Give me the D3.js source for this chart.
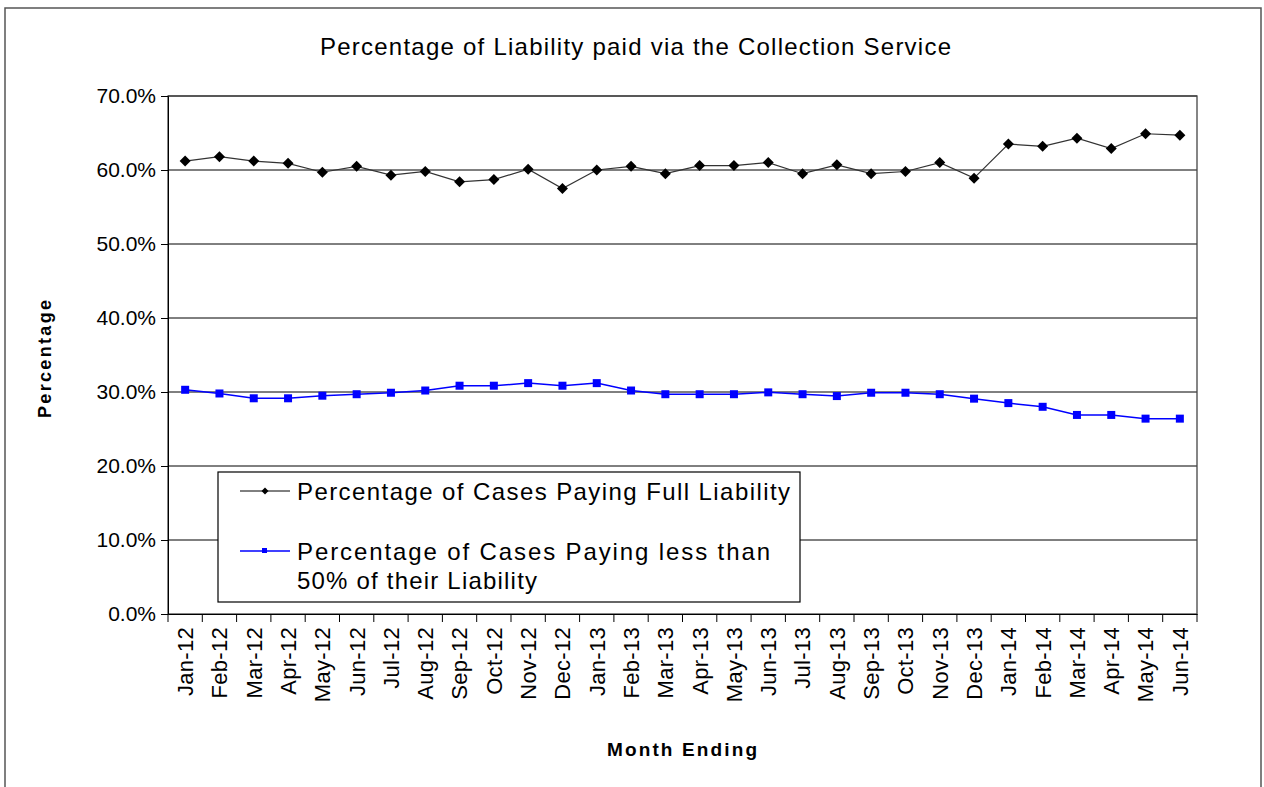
<!DOCTYPE html>
<html><head><meta charset="utf-8">
<script src="https://cdn.jsdelivr.net/npm/d3@7"></script>
<style>body{margin:0;background:#fff}svg{display:block}text{font-family:"Liberation Sans",Arial,sans-serif}</style>
</head><body><svg id="c" width="1264" height="787"></svg>
<script>
const months = ["Jan-12","Feb-12","Mar-12","Apr-12","May-12","Jun-12","Jul-12","Aug-12","Sep-12","Oct-12","Nov-12","Dec-12",
"Jan-13","Feb-13","Mar-13","Apr-13","May-13","Jun-13","Jul-13","Aug-13","Sep-13","Oct-13","Nov-13","Dec-13",
"Jan-14","Feb-14","Mar-14","Apr-14","May-14","Jun-14"];
const fullLiability = [61.2,61.8,61.2,60.9,59.7,60.5,59.3,59.8,58.4,58.7,60.1,57.5,60.0,60.5,59.5,60.6,60.6,61.0,59.5,60.7,59.5,59.8,61.0,58.9,63.5,63.2,64.3,62.9,64.9,64.7];
const lessThanHalf = [30.3,29.8,29.15,29.15,29.5,29.7,29.9,30.2,30.85,30.85,31.2,30.85,31.2,30.2,29.7,29.7,29.7,29.95,29.7,29.45,29.9,29.9,29.7,29.1,28.5,28.0,26.9,26.9,26.4,26.4];
const yTicks = [0,10,20,30,40,50,60,70];
const seriesNames = ["Percentage of Cases Paying Full Liability","Percentage of Cases Paying less than|50% of their Liability"];

const svg = d3.select("#c");
const L=168,R=1197,T=96,B=614;
const x = d3.scaleBand().domain(months).range([L,R]);
const y = d3.scaleLinear().domain([0,70]).range([B,T]);

// outer border
svg.append("rect").attr("x",5).attr("y",8).attr("width",1256).attr("height",790).attr("fill","none").attr("stroke","#555").attr("stroke-width",1.5);

svg.append("text").attr("x",320).attr("y",55).attr("font-size",24).attr("textLength",631).attr("lengthAdjust","spacing").text("Percentage of Liability paid via the Collection Service");

// gridlines
svg.append("g").selectAll("line").data(yTicks.filter(d=>d>0)).join("line")
 .attr("x1",L).attr("x2",R).attr("y1",d=>y(d)).attr("y2",d=>y(d)).attr("stroke","#000").attr("stroke-width",1);
svg.append("rect").attr("x",L).attr("y",T).attr("width",R-L).attr("height",B-T).attr("fill","none").attr("stroke","#444").attr("stroke-width",1.3);

// y axis
const ya = svg.append("g").attr("transform",`translate(${L},0)`).call(d3.axisLeft(y).tickValues(yTicks).tickSize(7).tickFormat(d=>d.toFixed(1)+"%"));
ya.select(".domain").attr("stroke","#000");
ya.selectAll("text").attr("font-size",21).attr("font-family","Liberation Sans, Arial, sans-serif").attr("fill","#000").attr("dx",-2);

// x axis
const xa = svg.append("g").attr("transform",`translate(0,${B})`).call(d3.axisBottom(x).tickSize(0).tickSizeOuter(0));
xa.select(".domain").attr("stroke","#000");
xa.selectAll("text").attr("font-size",22).attr("font-family","Liberation Sans, Arial, sans-serif").attr("fill","#000").attr("letter-spacing",0.3)
 .attr("transform","rotate(-90)").attr("text-anchor","end").attr("x",-13).attr("y",0).attr("dy","0.36em");
const bounds = months.map(m=>x(m)).concat([R]);
svg.append("g").selectAll("line").data(bounds).join("line")
 .attr("x1",d=>d).attr("x2",d=>d).attr("y1",B).attr("y2",B+8).attr("stroke","#000");

svg.append("text").attr("x",607).attr("y",756).attr("font-size",19).attr("font-weight","bold").attr("textLength",150).attr("lengthAdjust","spacing").text("Month Ending");
svg.append("text").attr("transform","translate(51,418) rotate(-90)").attr("font-size",18).attr("font-weight","bold").attr("textLength",118).attr("lengthAdjust","spacing").text("Percentage");

const cx = d=>x(d)+x.bandwidth()/2;
const line = vals => d3.line().x((d,i)=>cx(months[i])).y(d=>y(d))(vals);
const diamond = s => `M0,${-s}L${s},0L0,${s}L${-s},0Z`;
// black series
svg.append("path").attr("d",line(fullLiability)).attr("fill","none").attr("stroke","#333").attr("stroke-width",1.2);
svg.append("g").selectAll("path").data(fullLiability).join("path")
 .attr("d",diamond(5.5)).attr("transform",(d,i)=>`translate(${cx(months[i])},${y(d)})`).attr("fill","#000");
// blue series
svg.append("path").attr("d",line(lessThanHalf)).attr("fill","none").attr("stroke","#0000ff").attr("stroke-width",1.5);
svg.append("g").selectAll("rect").data(lessThanHalf).join("rect")
 .attr("x",(d,i)=>cx(months[i])-4).attr("y",d=>y(d)-4).attr("width",8).attr("height",8).attr("fill","#0000ff");

// legend
const lg = svg.append("g");
lg.append("rect").attr("x",218).attr("y",472).attr("width",582).attr("height",130).attr("fill","#fff").attr("stroke","#000").attr("stroke-width",1.2);
lg.append("line").attr("x1",240).attr("x2",290).attr("y1",491).attr("y2",491).attr("stroke","#000");
lg.append("path").attr("d",diamond(3.5)).attr("transform","translate(265,491)");
lg.append("line").attr("x1",240).attr("x2",290).attr("y1",551).attr("y2",551).attr("stroke","#0000ff").attr("stroke-width",1.5);
lg.append("rect").attr("x",262).attr("y",548).attr("width",5).attr("height",5).attr("fill","#0000ff");
lg.append("text").attr("x",297).attr("y",500).attr("font-size",24).attr("textLength",493).attr("lengthAdjust","spacing").text(seriesNames[0]);
const parts = seriesNames[1].split("|");
lg.append("text").attr("x",297).attr("y",560).attr("font-size",24).attr("textLength",473).attr("lengthAdjust","spacing").text(parts[0]);
lg.append("text").attr("x",297).attr("y",589).attr("font-size",24).attr("textLength",240).attr("lengthAdjust","spacing").text(parts[1]);
</script></body></html>
